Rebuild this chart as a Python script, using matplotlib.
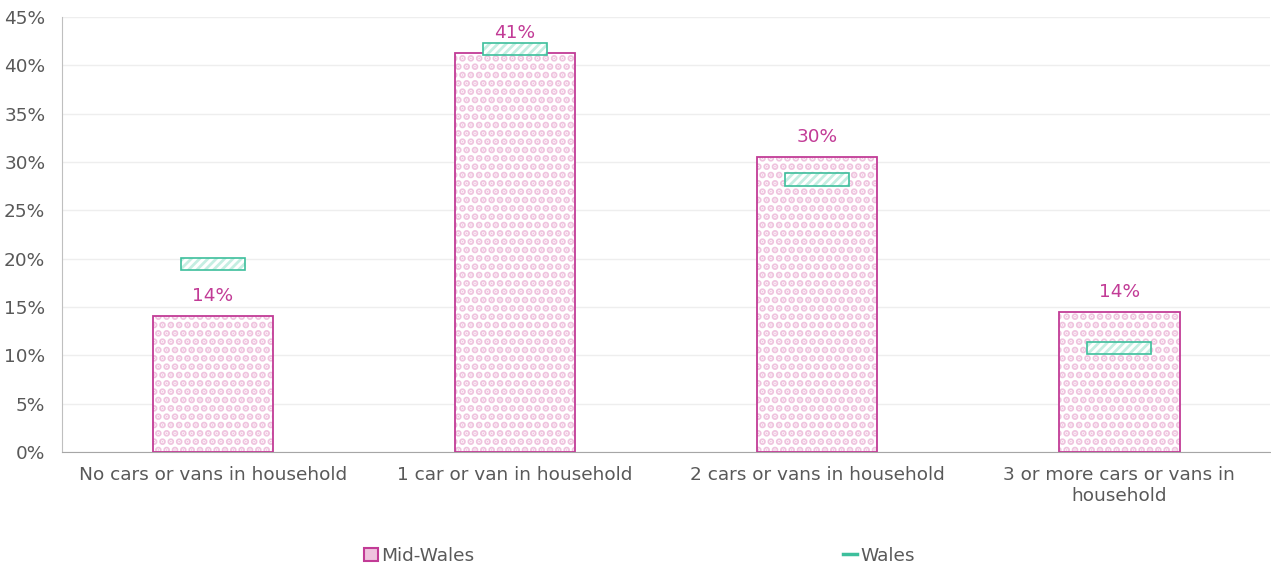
import matplotlib.pyplot as plt
import matplotlib.patches as mpatches
from matplotlib.lines import Line2D
import numpy as np

#---------------------------------------
# data
categories = ['No cars or vans in household', '1 car or van in household',
              '2 cars or vans in household', '3 or more cars or vans in\nhousehold']
mid_wales = [14.1, 41.3, 30.5, 14.5]
wales = [19.5, 41.7, 28.2, 10.8]
labels = ['14%', '41%', '30%', '14%']
yticks = [0, 5, 10, 15, 20, 25, 30, 35, 40, 45]
#---------------------------------------

pink_edge = '#c23b96'
pink_hatch = '#efc3de'
teal_edge = '#3dbf9c'
teal_hatch = '#c5eee2'
grey_txt = '#595959'
fs = 13.3

plt.rcParams['font.family'] = ['DejaVu Sans']
plt.rcParams['hatch.linewidth'] = 3.5

fig = plt.figure(figsize=(12.71, 5.70), dpi=100)
ax = fig.add_axes([0.0488, 0.207, 0.9505, 0.763])

x = np.arange(len(categories))
bw = 0.4

# pattern fill for Mid-Wales, then outline on top
ax.bar(x, mid_wales, width=bw, color='white', edgecolor=pink_hatch, hatch='..', linewidth=0, zorder=2)
ax.bar(x, mid_wales, width=bw, fill=False, edgecolor=pink_edge, linewidth=1.3, zorder=3)

# Wales shown as small floating box
box_h = 1.25
wb = 0.21
plt.rcParams['hatch.linewidth'] = 2.0
ax.bar(x, [box_h] * 4, width=wb, bottom=[v - box_h / 2 for v in wales], color='white',
       edgecolor=teal_hatch, hatch='////', linewidth=0, zorder=4)
ax.bar(x, [box_h] * 4, width=wb, bottom=[v - box_h / 2 for v in wales], fill=False,
       edgecolor=teal_edge, linewidth=1.2, zorder=5)

# data labels sit just above the Mid-Wales bar
for i, v in enumerate(mid_wales):
    ax.annotate(labels[i], (x[i], v), xytext=(0, 8), textcoords='offset points',
                ha='center', va='bottom', color=pink_edge, fontsize=fs, zorder=6)

ax.set_xlim(-0.5, 3.5)
ax.set_ylim(0, 45)
ax.set_yticks(yticks)
ax.set_yticklabels([f'{t}%' for t in yticks], color=grey_txt, fontsize=fs)
ax.set_xticks(x)
ax.set_xticklabels(categories, color=grey_txt, fontsize=fs)
ax.tick_params(axis='both', length=0)
ax.tick_params(axis='x', pad=10)
ax.tick_params(axis='y', pad=12)
ax.yaxis.grid(True, color='#eeeeee', linewidth=1)
ax.set_axisbelow(True)
for s in ['top', 'right']:
    ax.spines[s].set_visible(False)
ax.spines['left'].set_color('#bfbfbf')
ax.spines['bottom'].set_color('#a6a6a6')

h1 = mpatches.Patch(facecolor=pink_hatch, edgecolor=pink_edge, linewidth=1.5)
h2 = Line2D([], [], color=teal_edge, linewidth=2.5)
leg = fig.legend([h1, h2], ['Mid-Wales', 'Wales'], loc='center', bbox_to_anchor=(0.503, 0.025),
                 ncol=2, frameon=False, fontsize=fs, handlelength=0.75, handleheight=0.75,
                 handletextpad=0.15, columnspacing=20)
for t in leg.get_texts():
    t.set_color(grey_txt)

plt.savefig('out.png', dpi=100)
plt.close()
